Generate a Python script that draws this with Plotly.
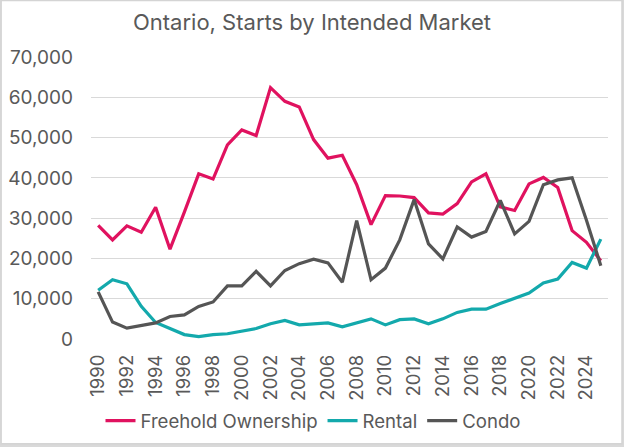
import plotly.graph_objects as go

years = list(range(1990, 2026))
freehold = [28.2, 24.6, 28.1, 26.5, 32.7, 22.3, 31.5, 41.0, 39.7, 48.2,
            51.9, 50.5, 62.4, 59.0, 57.6, 49.5, 44.9, 45.6, 38.3, 28.4,
            35.6, 35.5, 35.1, 31.3, 31.0, 33.6, 39.0, 41.0, 32.8, 31.9,
            38.5, 40.1, 37.6, 26.9, 24.0, 19.4]
rental = [12.1, 14.7, 13.7, 8.1, 4.1, 2.5, 1.1, 0.6, 1.1, 1.3,
          1.9, 2.6, 3.8, 4.6, 3.5, 3.8, 4.0, 3.0, 4.0, 5.0,
          3.5, 4.8, 5.0, 3.8, 5.0, 6.6, 7.4, 7.4, 8.8, 10.2,
          11.4, 13.9, 14.9, 19.0, 17.6, 24.8]
condo = [11.7, 4.2, 2.7, 3.3, 4.0, 5.6, 6.0, 8.1, 9.2, 13.2,
         13.2, 16.8, 13.2, 17.0, 18.7, 19.8, 18.9, 14.1, 29.4, 14.7,
         17.6, 24.6, 34.6, 23.6, 19.9, 27.8, 25.3, 26.7, 34.4, 26.1,
         29.2, 38.3, 39.5, 40.0, 29.5, 18.2]
series_names = ["Freehold Ownership", "Rental", "Condo"]
colors = ["#E0125F", "#13A9AC", "#555555"]
title_text = "Ontario, Starts by Intended Market"

W, H = 624, 447
L, R, T, B = 90.7, 608.0, 57.3, 339.3
pw, ph = R - L, B - T

def px(x):
    return (x - L) / pw

def py(y):
    return (B - y) / ph

fig = go.Figure()
for name, vals, col in zip(series_names, [freehold, rental, condo], colors):
    fig.add_trace(go.Scatter(
        x=years, y=[v * 1000 for v in vals], mode="lines", name=name,
        line=dict(color=col, width=3.2), hoverinfo="skip"))

font_family = "Inter, 'Open Sans', sans-serif"
txt = "#595959"

fig.update_layout(
    width=W, height=H,
    margin=dict(l=L, r=W - R, t=T, b=H - B, pad=0, autoexpand=False),
    paper_bgcolor="#D9D9D9",
    plot_bgcolor="rgba(0,0,0,0)",
    font=dict(family=font_family, size=18, color=txt),
    title=dict(text=title_text, x=312 / W, xanchor="center", xref="container",
               y=1 - 22 / H, yanchor="middle", yref="container",
               font=dict(size=22, color=txt, family=font_family)),
    showlegend=True,
    legend=dict(orientation="h", x=313 / W, xref="container", xanchor="center",
                y=1 - 421 / H, yref="container", yanchor="middle",
                font=dict(size=18.6, color=txt), itemwidth=30, bgcolor="rgba(0,0,0,0)"),
    xaxis=dict(range=[1989.5, 2025.5], tickmode="array", tickvals=list(range(1990, 2026, 2)),
               ticktext=[str(y) for y in range(1990, 2026, 2)], tickangle=-90,
               showgrid=False, zeroline=False, showline=False, ticks="",
               ticklabelstandoff=11, tickfont=dict(size=18.5, color=txt), automargin=False),
    yaxis=dict(range=[0, 70000], dtick=10000, tickformat=",", showgrid=True,
               gridcolor="#D9D9D9", gridwidth=1.2, zeroline=False, showline=False,
               ticks="", ticklabelstandoff=17, tickfont=dict(size=19, color=txt), automargin=False),
    shapes=[dict(type="rect", xref="paper", yref="paper", layer="below",
                 x0=px(0.8), x1=px(622), y0=py(444), y1=py(0.8),
                 fillcolor="white", line=dict(width=1.5, color="#D4D4D4"))],
)

fig.write_html("out.html", config={"displayModeBar": False},
               post_script="document.body.style.margin='0px';document.body.style.padding='0px';")
